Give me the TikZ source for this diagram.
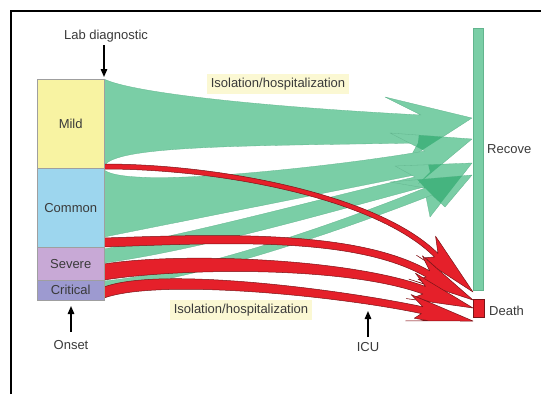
\documentclass[tikz,border=0pt]{standalone}
\usepackage{fontspec}
\setmainfont{Liberation Sans}
\usetikzlibrary{arrows.meta}
\definecolor{gfill}{HTML}{7ACEA6}
\definecolor{gdark}{HTML}{45B47F}
\definecolor{gline}{HTML}{62B58E}
\definecolor{rfill}{HTML}{E5202A}
\definecolor{rline}{HTML}{7A1418}
\definecolor{mildc}{HTML}{F8F3A2}
\definecolor{commonc}{HTML}{9DD6EE}
\definecolor{severec}{HTML}{C8A9D6}
\definecolor{criticalc}{HTML}{9D9AD0}
\definecolor{txt}{HTML}{3A3A3A}
\definecolor{labelbg}{HTML}{FBF8D3}
\newcommand{\RedHead}[5]{%
  \begin{scope}[shift={(#2,#3)}, rotate=-#4]
    \coordinate (#1t) at (0,0);
    \coordinate (#1bu) at (-66,-13);
    \coordinate (#1nu) at (-52,-#5);
    \coordinate (#1cu) at (-135,-#5);
    \coordinate (#1jl) at (-44,9);
    \coordinate (#1kl) at (-58,9.5);
    \coordinate (#1bl) at (-66,14);
    \coordinate (#1nl) at (-52,#5);
    \coordinate (#1cl) at (-135,#5);
  \end{scope}}
\begin{document}
\begin{tikzpicture}[x=1pt,y=-1pt,
  greenflow/.style={fill=gfill, draw=gline, line width=0.3pt, line join=round},
  redflow/.style={fill=rfill, draw=rline, line width=0.5pt, line join=round},
  stage/.style={draw=gray!75, line width=0.4pt, inner sep=0pt, anchor=north west,
    text=txt, font=\fontsize{13}{15}\selectfont, minimum width=67pt},
  lbl/.style={text=txt, font=\fontsize{13}{15}\selectfont, inner sep=0pt},
  phase/.style={lbl, fill=labelbg, inner xsep=4pt, inner ysep=3.5pt},
  marker/.style={-{Triangle[length=8pt,width=6.5pt]}, line width=1.4pt, black}]
\useasboundingbox (0,0) rectangle (541,394);
\fill[white] (0,0) rectangle (541,394);
\draw[line width=1.4pt] (11,394) -- (11,11) -- (541,11);

% ---------- green flows ----------
% Mild -> recover
\filldraw[greenflow] (104,79) .. controls (130,92) and (250,106) .. (421,115)
  -- (385,97) -- (472,118) -- (410,158) -- (418,143)
  .. controls (250,146) and (110,145) .. (104,167) -- cycle;
% Common -> recover
\filldraw[greenflow] (104,170) .. controls (120,182) and (200,178) .. (280,170)
  .. controls (340,164) and (390,157) .. (425,151)
  -- (390,133) -- (472,139) -- (418,184) -- (430,172) -- (104,237) -- cycle;
% Severe -> recover
\filldraw[greenflow] (104,249) .. controls (200,232) and (330,196) .. (415,177)
  -- (395,166) -- (472,163) -- (430,217) -- (424,187)
  .. controls (330,212) and (200,250) .. (104,263) -- cycle;
% Critical -> recover
\filldraw[greenflow] (104,281) .. controls (200,272) and (340,222) .. (425,188)
  -- (390,182) -- (472,175) -- (445,207) -- (432,195)
  .. controls (345,229) and (200,280) .. (104,289) -- cycle;
% overlaps of the heads
\begin{scope}
  \clip (421,115) -- (385,97) -- (472,118) -- (410,158) -- (418,143) -- cycle;
  \fill[gdark] (425,151) -- (390,133) -- (472,139) -- (418,184) -- (430,172) -- cycle;
  \fill[gdark] (415,177) -- (395,166) -- (472,163) -- (430,217) -- (424,187) -- cycle;
\end{scope}
\begin{scope}
  \clip (425,151) -- (390,133) -- (472,139) -- (418,184) -- (430,172) -- cycle;
  \fill[gdark] (415,177) -- (395,166) -- (472,163) -- (430,217) -- (424,187) -- cycle;
  \fill[gdark] (425,188) -- (390,182) -- (472,175) -- (445,207) -- (432,195) -- cycle;
\end{scope}
\begin{scope}
  \clip (415,177) -- (395,166) -- (472,163) -- (430,217) -- (424,187) -- cycle;
  \fill[gdark] (425,188) -- (390,182) -- (472,175) -- (445,207) -- (432,195) -- cycle;
\end{scope}

% ---------- red flows ----------
\RedHead{ra}{473}{292}{45}{2.5}
\RedHead{rb}{473}{300}{30}{3.5}
\RedHead{rc}{473}{308}{20}{4}
\RedHead{rd}{473}{321}{12}{3.5}
\filldraw[redflow] (104,164) .. controls (220,164) and (racu) .. (ranu)
  -- (rabu) -- (rat) -- (rabl) -- (rajl) -- (rakl) -- (ranl)
  .. controls (racl) and (220,169) .. (104,169) -- cycle;
\filldraw[redflow] (104,238) .. controls (220,234) and (rbcu) .. (rbnu)
  -- (rbbu) -- (rbt) -- (rbbl) -- (rbjl) -- (rbkl) -- (rbnl)
  .. controls (rbcl) and (220,243) .. (104,247) -- cycle;
\filldraw[redflow] (104,264) .. controls (180,252) and (rccu) .. (rcnu)
  -- (rcbu) -- (rct) -- (rcbl) -- (rcjl) -- (rckl) -- (rcnl)
  .. controls (rccl) and (180,268) .. (104,280) -- cycle;
\filldraw[redflow] (104,287) .. controls (160,266) and (rdcu) .. (rdnu)
  -- (rdbu) -- (rdt) -- (rdbl) -- (rdjl) -- (rdkl) -- (rdnl)
  .. controls (rdcl) and (160,278) .. (104,298) -- cycle;

% ---------- stages ----------
\node[stage, fill=mildc, minimum height=89pt] (mild) at (37,79) {Mild};
\node[stage, fill=commonc, minimum height=79pt] (common) at (37,168) {Common};
\node[stage, fill=severec, minimum height=33pt] (severe) at (37,247) {Severe};
\node[stage, fill=criticalc, minimum height=20pt] (critical) at (37,280) {Critical};

% ---------- outcomes ----------
\node[fill=gfill, draw=gline, line width=0.3pt, inner sep=0pt, minimum width=10pt,
  minimum height=262pt, anchor=north west] (recover) at (473,28) {};
\node[fill=rfill, draw=rline, line width=0.5pt, inner sep=0pt, minimum width=11pt,
  minimum height=18pt, anchor=north west] (death) at (473,299) {};
\node[lbl, anchor=west] (recovetxt) at (487,149) {Recove};
\node[lbl, anchor=west] (deathtxt) at (489,311) {Death};

% ---------- labels ----------
\node[phase] (iso1) at (278,84) {Isolation/hospitalization};
\node[phase] (iso2) at (241,310) {Isolation/hospitalization};

\node[lbl] (lab) at (106,36) {Lab diagnostic};
\coordinate (labtip) at (104,77);
\draw[marker] (lab.south -| labtip) ++(0,3) -- (labtip);

\node[lbl] (onset) at (71,345) {Onset};
\coordinate (onsettip) at (71,306);
\draw[marker] (onset.north) ++(0,-8) -- (onsettip);

\node[lbl] (icu) at (368,347) {ICU};
\coordinate (icutip) at (368,311);
\draw[marker] (icu.north) ++(0,-5) -- (icutip);
\end{tikzpicture}
\end{document}
